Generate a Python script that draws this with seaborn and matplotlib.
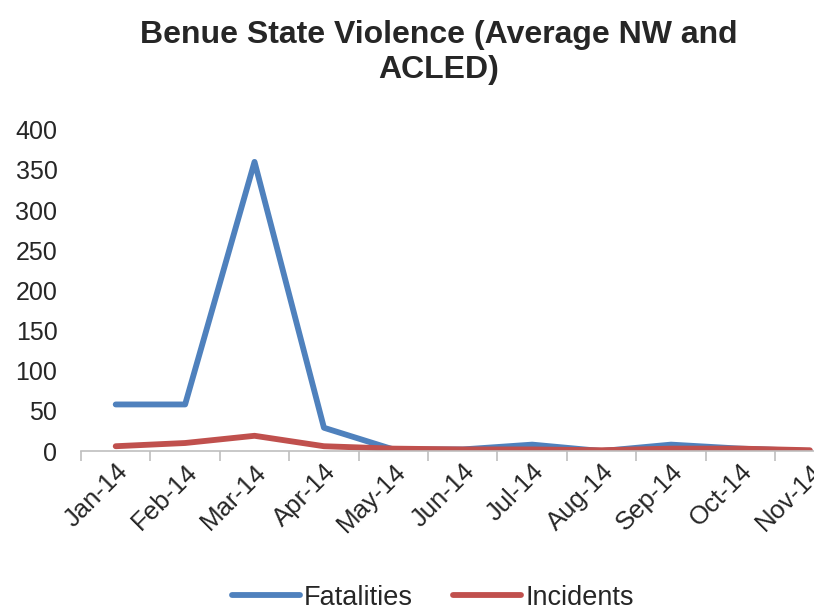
import pandas as pd
import matplotlib.pyplot as plt
import seaborn as sns
from matplotlib.ticker import FixedLocator

# data
months = ["Jan-14", "Feb-14", "Mar-14", "Apr-14", "May-14", "Jun-14",
          "Jul-14", "Aug-14", "Sep-14", "Oct-14", "Nov-14"]
fatalities = [58, 58, 360, 29, 2, 2, 8, 0, 8, 3, 0]
incidents = [6, 10, 19, 6, 3, 2, 2, 1, 3, 3, 1]

df = pd.DataFrame({
    "Month": months * 2,
    "Value": fatalities + incidents,
    "Series": ["Fatalities"] * len(months) + ["Incidents"] * len(months),
})

sns.set_style("white")
plt.rcParams["font.family"] = ["Liberation Sans", "DejaVu Sans"]

fig = plt.figure(figsize=(8.14, 6.12), dpi=100)
ax = fig.add_axes([0.0995, 0.263, 0.9005, 0.525])

sns.lineplot(
    data=df, x="Month", y="Value", hue="Series", sort=False,
    palette={"Fatalities": "#4F81BD", "Incidents": "#C0504D"},
    linewidth=4.2, ax=ax,
)

ax.set_ylim(0, 400)
ax.set_xlim(-0.5, 10.06)
ax.set_yticks(range(0, 401, 50))
ax.set_xlabel("")
ax.set_ylabel("")

for s in ["top", "right", "left"]:
    ax.spines[s].set_visible(False)
ax.spines["bottom"].set_color("#BFBFBF")
ax.spines["bottom"].set_linewidth(1.2)

ax.tick_params(axis="x", which="major", bottom=False, length=0, pad=6,
               labelsize=18.5)
ax.xaxis.set_minor_locator(FixedLocator([i - 0.5 for i in range(12)]))
ax.tick_params(axis="x", which="minor", bottom=True, length=7, width=1.2,
               color="#BFBFBF", direction="out")
ax.tick_params(axis="y", length=0, labelsize=18, pad=17)
for lab in ax.get_xticklabels():
    lab.set_rotation(45)
    lab.set_ha("right")
    lab.set_rotation_mode("anchor")

fig.text(0.539, 0.968, "Benue State Violence (Average NW and\nACLED)",
         ha="center", va="top", fontsize=23, fontweight="bold",
         linespacing=1.25)

ax.legend(loc="center", bbox_to_anchor=(0.48, -0.457), ncol=2, frameon=False,
          fontsize=19.5, handlelength=2.5, handletextpad=0.15,
          columnspacing=1.5)

fig.savefig("out.png", dpi=100)
